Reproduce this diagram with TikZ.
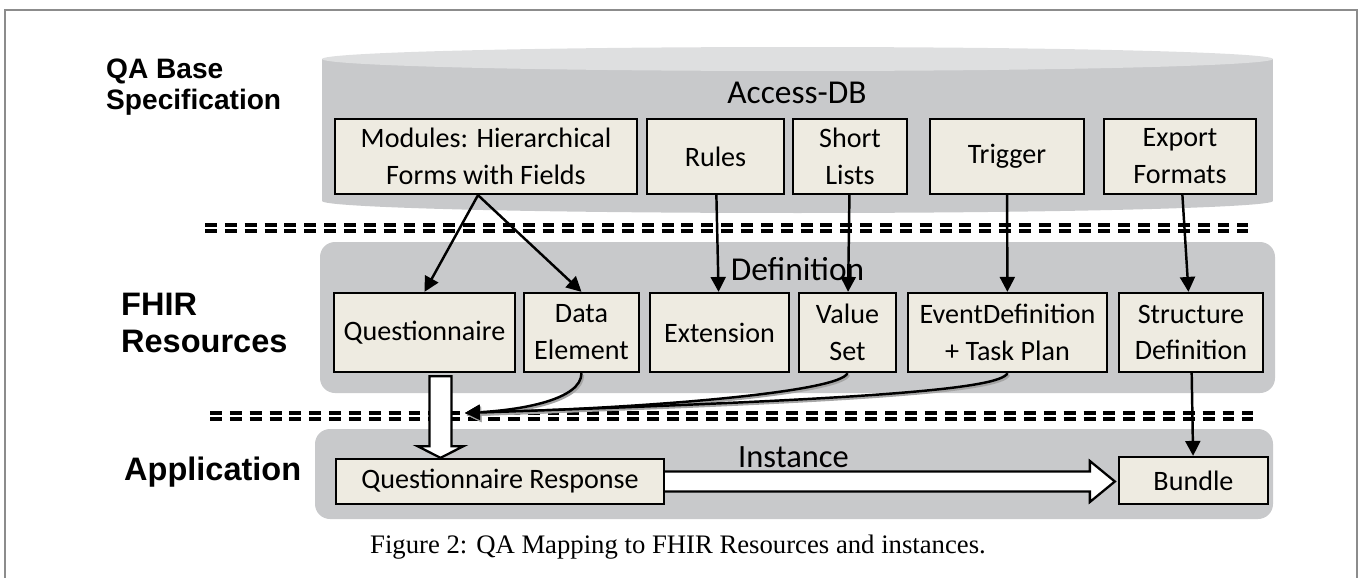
\documentclass[tikz,border=0pt]{standalone}
\usepackage{fontspec}
\setmainfont{Carlito}
\newfontfamily\headfont{Liberation Sans}
\newfontfamily\capfont{Liberation Serif}
\usetikzlibrary{arrows.meta, positioning, calc}
\definecolor{dbgray}{HTML}{C8C9CB}
\definecolor{dbtop}{HTML}{DEDFE0}
\definecolor{boxfill}{HTML}{EEEBE1}
\definecolor{shade}{HTML}{A5A5A5}
\tikzset{%
	item/.style={draw, line width=1.3pt, fill=boxfill, align=center, inner sep=0mm,%
		font=\fontsize{16}{21}\selectfont},
	sz/.style 2 args={minimum width=#1*0.02cm, minimum height=#2*0.02cm},
	layer/.style={anchor=west, align=left, font=\headfont\bfseries\fontsize{18.5}{21.5}\selectfont},
	tag/.style={anchor=base, font=\fontsize{19}{21}\selectfont},
	panel/.style={fill=dbgray, rounded corners=0.3cm},
	sel/.style={-{Triangle[length=8.5pt, width=8.5pt]}, line width=1.4pt},
	merge/.style={sel, preaction={draw=shade, line width=1.4pt,%
		transform canvas={shift={(0.8pt,-1.1pt)}}}},
	fat/.style={draw, fill=white, line width=1.3pt, line join=miter},
	sep/.style={line width=1.9pt, dash pattern=on 6.8pt off 4.5pt}
}
\begin{document}
\begin{tikzpicture}[x=0.02cm, y=-0.02cm]
	\useasboundingbox (0,0) rectangle (1359,578);
	\draw[gray!90, line width=0.8pt] (5,590) -- (5,10) -- (1357,10) -- (1357,590);

	% layers
	\fill[dbgray] (322,59) rectangle (1273,201);
	\fill[dbgray] (797.5,201) ellipse [x radius=9.51cm, y radius=0.24cm];
	\fill[dbtop] (797.5,59) ellipse [x radius=9.51cm, y radius=0.24cm];
	\fill[panel] (320,242) rectangle (1275,393);
	\fill[panel] (315,429) rectangle (1273,519);

	\draw[sep, shade] (205,231) -- (1248,231);
	\draw[sep] (205,225) -- (1248,225);
	\draw[sep, shade] (210,419) -- (1253,419);
	\draw[sep] (210,413) -- (1253,413);

	\node[layer, font=\headfont\bfseries\fontsize{16}{17.5}\selectfont] (qabase) at (100,87) {QA Base\\Specification};
	\node[layer] (fhir) at (115,323) {FHIR\\Resources};
	\node[layer] (app) at (118,472) {Application};

	\node[tag] (dbname) at (797,103) {Access-DB};
	\node[tag] (defname) at (797.5,280) {Definition};
	\node[tag, font=\fontsize{18.5}{21}\selectfont] (instname) at (793.5,467) {Instance};

	% access-db
	\node[item, sz={302}{75}] (mods) at (486,156.5) {Modules: Hierarchical\\Forms with Fields};
	\node[item, sz={137}{75}] (rules) at (715.5,156.5) {Rules};
	\node[item, sz={114}{75}] (lists) at (850,156.5) {Short\\Lists};
	\node[item, sz={154}{75}] (trig) at (1007,156.5) {Trigger};
	\node[item, sz={152}{75}] (fmts) at (1180,156.5) {Export\\Formats};

	% fhir definitions
	\node[item, sz={181}{79}] (quest) at (424.5,332.5) {Questionnaire};
	\node[item, sz={115}{79}] (delem) at (581.5,332.5) {Data\\Element};
	\node[item, sz={139}{79}] (ext) at (719.5,332.5) {Extension};
	\node[item, sz={97}{79}] (vset) at (847.5,332.5) {Value\\Set};
	\node[item, sz={199}{79}] (evdef) at (1007.5,332.5) {EventDefinition\\+ Task Plan};
	\node[item, sz={144}{79}] (sdef) at (1191,332.5) {Structure\\Definition};

	% instances
	\node[item, sz={328}{45}] (qresp) at (500,481.5) {Questionnaire Response};
	\node[item, sz={149}{47}] (bundle) at (1193.5,480.5) {Bundle};

	\draw[sel] ($(mods.south)+(-8,0)$) -- (quest.north);
	\draw[sel] ($(mods.south)+(-8,0)$) -- (delem.north);
	\draw[sel] (rules) -- (ext);
	\draw[sel] (lists) -- (vset);
	\draw[sel] (trig) -- (evdef);
	\draw[sel] (fmts) -- (sdef);
	\draw[sel] (sdef) -- (bundle);

	\coordinate (join) at (465,413);
	\draw[merge] (delem.south) .. controls (581.5,400) and (520,410) .. (join);
	\draw[merge] (vset.south) .. controls (840,392) and (650,408) .. (join);
	\draw[merge] (evdef.south) .. controls (1000,390) and (850,400) .. (join);

	\coordinate (qdown) at ($(quest.south)+(16,0)$);
	\draw[fat] ($(qdown)+(-11,3)$) -- ($(qdown)+(-11,73)$) -- ($(qdown)+(-23,73)$)
		-- (qdown |- qresp.north) -- ($(qdown)+(23,73)$) -- ($(qdown)+(11,73)$)
		-- ($(qdown)+(11,3)$) -- cycle;

	\coordinate (fattip) at (qresp.east -| bundle.west);
	\draw[fat] ($(qresp.east)+(0,-10)$) -- ($(fattip)+(-28,-10)$) -- ($(fattip)+(-28,-20.5)$)
		-- ($(fattip)+(-3,0)$) -- ($(fattip)+(-28,20.5)$) -- ($(fattip)+(-28,10)$)
		-- ($(qresp.east)+(0,10)$);

	\node[anchor=base, font=\capfont\fontsize{15.2}{17}\selectfont] (caption) at (678,553)
		{Figure 2: QA Mapping to FHIR Resources and instances.};
\end{tikzpicture}
\end{document}
